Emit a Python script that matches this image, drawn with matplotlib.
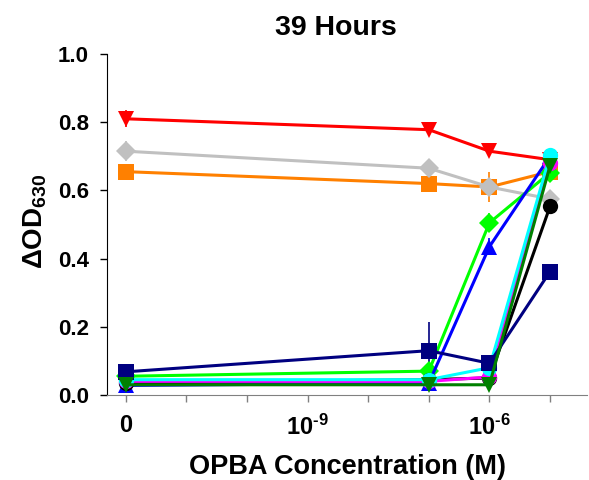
import numpy as np
import matplotlib
matplotlib.use("Agg")
import matplotlib.pyplot as plt

plt.rcParams['font.family'] = ['Liberation Sans', 'DejaVu Sans']
plt.rcParams['font.weight'] = 'bold'
plt.rcParams['mathtext.fontset'] = 'custom'
plt.rcParams['mathtext.rm'] = 'Liberation Sans:bold'
plt.rcParams['mathtext.bf'] = 'Liberation Sans:bold'
plt.rcParams['mathtext.it'] = 'Liberation Sans:bold'
plt.rcParams['mathtext.default'] = 'bf'

# OPBA concentrations (M); 0 is drawn at 1e-12 on the log axis
conc = [0, 1e-7, 1e-6, 1e-5]
zero_pos = 1e-12

# Delta OD630 values per series
red_tri = [0.81, 0.778, 0.715, 0.69]
gray_dia = [0.715, 0.665, 0.61, 0.575]
orange_sq = [0.655, 0.62, 0.61, 0.655]
lime_dia = [0.055, 0.07, 0.505, 0.652]
blue_tri = [0.028, 0.035, 0.435, 0.70]
black_circ = [0.035, 0.045, 0.05, 0.553]
magenta_circ = [0.04, 0.04, 0.053, 0.68]
cyan_circ = [0.045, 0.045, 0.08, 0.703]
navy_sq = [0.068, 0.13, 0.093, 0.362]
dgreen_tri = [0.03, 0.03, 0.03, 0.672]

# error bars (same order as conc)
red_err = [0.025, 0, 0, 0]
gray_err = [0.03, 0, 0, 0]
orange_err = [0, 0, 0.045, 0]
lime_err = [0, 0, 0.028, 0]
blue_err = [0, 0, 0.025, 0]
navy_err = [0, 0.085, 0, 0]
zero_err = [0, 0, 0, 0]

series = [
    (orange_sq, orange_err, '#ff8000', 's', 11),
    (gray_dia, gray_err, '#c0c0c0', 'D', 10),
    (red_tri, red_err, '#ff0000', 'v', 12),
    (lime_dia, lime_err, '#00ff00', 'D', 10),
    (blue_tri, blue_err, '#0000ff', '^', 12),
    (black_circ, zero_err, '#000000', 'o', 11),
    (magenta_circ, zero_err, '#ff00ff', 'o', 11),
    (cyan_circ, zero_err, '#00ffff', 'o', 11),
    (navy_sq, navy_err, '#000080', 's', 11),
    (dgreen_tri, zero_err, '#008000', 'v', 12),
]

x = [c if c > 0 else zero_pos for c in conc]

fig = plt.figure(figsize=(5.89, 4.8), dpi=100)
ax = fig.add_axes([107 / 589, (480 - 395) / 480, 480 / 589, 341 / 480])

for vals, err, col, mk, ms in series:
    ax.errorbar(x, vals, yerr=err, color=col, marker=mk, markersize=ms,
                linewidth=2.2, elinewidth=1.2, capsize=4, capthick=1.2,
                markeredgewidth=0)

ax.set_xscale('log')
ax.set_xlim(10 ** -12.31, 10 ** -4.39)
ax.set_ylim(0, 1.0)

decades = [10.0 ** k for k in range(-12, -4)]
ax.set_xticks(decades)
ax.minorticks_off()
labels = []
for k in range(-12, -4):
    if k == -12:
        labels.append('0')
    elif k in (-9, -6):
        labels.append('10$^{\\text{-}%d}$' % -k)
    else:
        labels.append('')
ax.set_xticklabels(labels)
ax.set_yticks([0, 0.2, 0.4, 0.6, 0.8, 1.0])
ax.set_yticklabels(['0.0', '0.2', '0.4', '0.6', '0.8', '1.0'])

ax.tick_params(axis='both', direction='out', length=5, width=1, labelsize=16)
ax.tick_params(axis='x', pad=9, labelsize=17)
ax.tick_params(axis='y', pad=8)
ax.spines['top'].set_visible(False)
ax.spines['right'].set_visible(False)
ax.spines['bottom'].set_color('#808080')
ax.tick_params(axis='x', color='#808080')

ax.set_title('39 Hours', fontsize=20.5, fontweight='bold', pad=14, x=0.477)
ax.set_xlabel('OPBA Concentration (M)', fontsize=19.5, fontweight='bold')
ax.xaxis.set_label_coords(0.502, -0.172)
ax.set_ylabel('$\\Delta$OD$_{630}$', fontsize=20, fontweight='bold')
ax.yaxis.set_label_coords(-0.12, 0.51)

fig.savefig('out.png', dpi=100)
